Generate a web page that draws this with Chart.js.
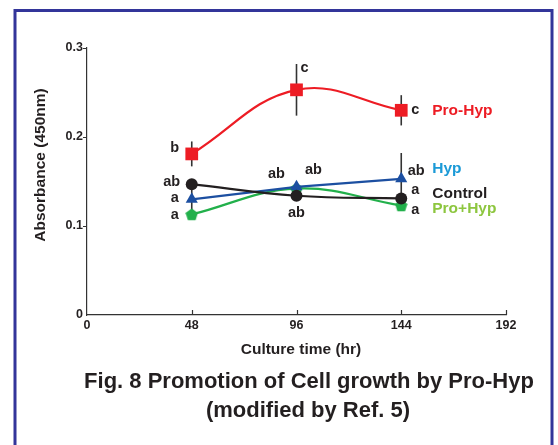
<!DOCTYPE html>
<html>
<head>
<meta charset="utf-8">
<script src="https://cdn.jsdelivr.net/npm/chart.js@4"></script>
<style>
  body { margin: 0; background: #fff; }
  canvas { display: block; }
</style>
</head>
<body>
<canvas id="cellGrowth" width="558" height="445"></canvas>
<script>
// culture time (hr) and absorbance readings
const times = [48, 96, 144];
const proHyp = [0.181, 0.253, 0.230];
const control = [0.147, 0.134, 0.131];
const hyp = [0.130, 0.144, 0.153];
const proPlusHyp = [0.113, 0.142, 0.123];

// error bars (+/-)
const proHypErr = [0.014, 0.029, 0.017];
const controlErr = [0, 0, 0];
const hypErr = [0.017, 0, 0.029];
const proPlusHypErr = [0, 0, 0];

// significance letters
const proHypLetters = ["b", "c", "c"];
const controlLetters = ["ab", "ab", "a"];
const hypLetters = ["a", "ab", "ab"];
const proPlusHypLetters = ["a", "ab", "a"];

const seriesNames = ["Pro-Hyp", "Control", "Hyp", "Pro+Hyp"];
const xTicks = [0, 48, 96, 144, 192];
const yTicks = [0, 0.1, 0.2, 0.3];
const yTickLabels = ["0", "0.1", "0.2", "0.3"];

const FONT = "'Liberation Sans', Arial, Helvetica, sans-serif";
const INK = "#231f20";

// label placement around each point (dx, dy in px)
const letterOffsets = [
    [[-17, -6], [8, -22], [14, 0]],
    [[-20, -2], [0, 17], [14, -8]],
    [[-17, -1], [17, -17], [15, -8]],
    [[-17, 1], [-20, -15], [14, 4]]
];
const nameOffsetY = [0, -5, -10, 3];
const nameColors = ["#ed1c24", INK, "#1b9ad7", "#8dc63f"];

function toPoints(vals) {
    return times.map((t, i) => ({ x: t, y: vals[i] }));
}

// green pentagon marker
function pentagon(color) {
    const c = document.createElement("canvas");
    c.width = 13; c.height = 13;
    const g = c.getContext("2d");
    g.fillStyle = color;
    g.beginPath();
    for (let k = 0; k < 5; k++) {
        let a = -Math.PI / 2 + k * 2 * Math.PI / 5;
        let px = 6.5 + Math.cos(a) * 6.5, py = 7 + Math.sin(a) * 6.5;
        if (k === 0) g.moveTo(px, py); else g.lineTo(px, py);
    }
    g.closePath();
    g.fill();
    return c;
}

const errs = [proHypErr, controlErr, hypErr, proPlusHypErr];
const letters = [proHypLetters, controlLetters, hypLetters, proPlusHypLetters];

const extras = {
    id: "extras",
    beforeDatasetsDraw(chart) {
        const ctx = chart.ctx, xs = chart.scales.x, ys = chart.scales.y;
        ctx.save();
        ctx.strokeStyle = "#333";
        ctx.lineWidth = 1.6;
        chart.data.datasets.forEach((ds, d) => {
            errs[d].forEach((e, i) => {
                if (!e) return;
                let px = xs.getPixelForValue(times[i]);
                ctx.beginPath();
                ctx.moveTo(px, ys.getPixelForValue(ds.data[i].y + e));
                ctx.lineTo(px, ys.getPixelForValue(ds.data[i].y - e));
                ctx.stroke();
            });
        });
        ctx.restore();
    },
    afterDatasetsDraw(chart) {
        const ctx = chart.ctx, xs = chart.scales.x, ys = chart.scales.y;
        ctx.save();
        ctx.textBaseline = "middle";
        chart.data.datasets.forEach((ds, d) => {
            ctx.font = "bold 14.5px " + FONT;
            ctx.fillStyle = INK;
            ctx.textAlign = "center";
            letters[d].forEach((txt, i) => {
                let px = xs.getPixelForValue(times[i]);
                let py = ys.getPixelForValue(ds.data[i].y);
                ctx.fillText(txt, px + letterOffsets[d][i][0], py + letterOffsets[d][i][1]);
            });
            // series name to the right of last point
            let last = ds.data.length - 1;
            ctx.font = "bold 15.5px " + FONT;
            ctx.textAlign = "left";
            ctx.fillStyle = nameColors[d];
            ctx.fillText(seriesNames[d], xs.getPixelForValue(times[last]) + 31,
                ys.getPixelForValue(ds.data[last].y) + nameOffsetY[d]);
        });
        ctx.restore();
    },
    afterDraw(chart) {
        const ctx = chart.ctx, xs = chart.scales.x, area = chart.chartArea;
        ctx.save();
        // inward ticks on x axis
        ctx.strokeStyle = "#333";
        ctx.lineWidth = 1.2;
        xTicks.forEach(v => {
            if (v === 0) return;
            let px = Math.round(xs.getPixelForValue(v)) + 0.5;
            ctx.beginPath();
            ctx.moveTo(px, area.bottom);
            ctx.lineTo(px, area.bottom - 5);
            ctx.stroke();
        });
        // axis titles
        ctx.fillStyle = INK;
        ctx.textAlign = "center";
        ctx.textBaseline = "middle";
        ctx.font = "bold 15.5px " + FONT;
        ctx.fillText("Culture time (hr)", 301, 350);
        ctx.save();
        ctx.translate(41, 165);
        ctx.rotate(-Math.PI / 2);
        ctx.fillText("Absorbance (450nm)", 0, 0);
        ctx.restore();
        // caption
        ctx.font = "bold 22px " + FONT;
        ctx.fillText("Fig. 8 Promotion of Cell growth by Pro-Hyp", 309, 382);
        ctx.fillText("(modified by Ref. 5)", 308, 411);
        // frame
        ctx.strokeStyle = "#33359a";
        ctx.lineWidth = 3;
        ctx.strokeRect(15, 10.5, 537, 500);
        ctx.restore();
    }
};

const ctx = document.getElementById("cellGrowth").getContext("2d");

new Chart(ctx, {
    type: "line",
    data: {
        datasets: [
            {
                label: seriesNames[0], data: toPoints(proHyp),
                borderColor: "#ed1c24", backgroundColor: "#ed1c24",
                borderWidth: 2.2, tension: 0.4,
                pointStyle: "rect", pointRadius: 9, pointBorderWidth: 0
            },
            {
                label: seriesNames[1], data: toPoints(control),
                borderColor: INK, backgroundColor: INK,
                borderWidth: 2.2, tension: 0.4,
                pointStyle: "circle", pointRadius: 6, pointBorderWidth: 0
            },
            {
                label: seriesNames[2], data: toPoints(hyp),
                borderColor: "#1c4fa1", backgroundColor: "#1c4fa1",
                borderWidth: 2.2, tension: 0,
                pointStyle: "triangle", pointRadius: 7, pointBorderWidth: 0
            },
            {
                label: seriesNames[3], data: toPoints(proPlusHyp),
                borderColor: "#22b04b", backgroundColor: "#22b04b",
                borderWidth: 2.2, tension: 0.4,
                pointStyle: pentagon("#22b04b"), pointRadius: 6.5, pointBorderWidth: 0
            }
        ]
    },
    options: {
        responsive: false,
        animation: false,
        devicePixelRatio: 1,
        layout: { padding: { left: 0, top: 48, right: 52, bottom: 0 } },
        scales: {
            x: {
                type: "linear", min: 0, max: 192,
                afterFit: s => { s.height = 130; },
                afterBuildTicks: s => { s.ticks = xTicks.map(v => ({ value: v })); },
                grid: { display: true, drawOnChartArea: false, drawTicks: false },
                border: { display: true, color: "#333", width: 1.2 },
                ticks: {
                    padding: 3, color: INK,
                    font: { family: FONT, size: 12.5, weight: "bold" },
                    maxRotation: 0
                }
            },
            y: {
                min: 0, max: 0.3,
                afterFit: s => { s.width = 87; },
                afterBuildTicks: s => { s.ticks = yTicks.map(v => ({ value: v })); },
                grid: {
                    drawOnChartArea: false, drawTicks: true, tickLength: 4,
                    color: c => c.tick && c.tick.value === 0 ? "rgba(0,0,0,0)" : "#333"
                },
                border: { display: true, color: "#333", width: 1.2 },
                ticks: {
                    padding: 0, color: INK,
                    font: { family: FONT, size: 12.5, weight: "bold" },
                    callback: (v, i) => yTickLabels[i]
                }
            }
        },
        plugins: {
            legend: { display: false },
            tooltip: { enabled: false }
        }
    },
    plugins: [extras]
});
</script>
</body>
</html>
